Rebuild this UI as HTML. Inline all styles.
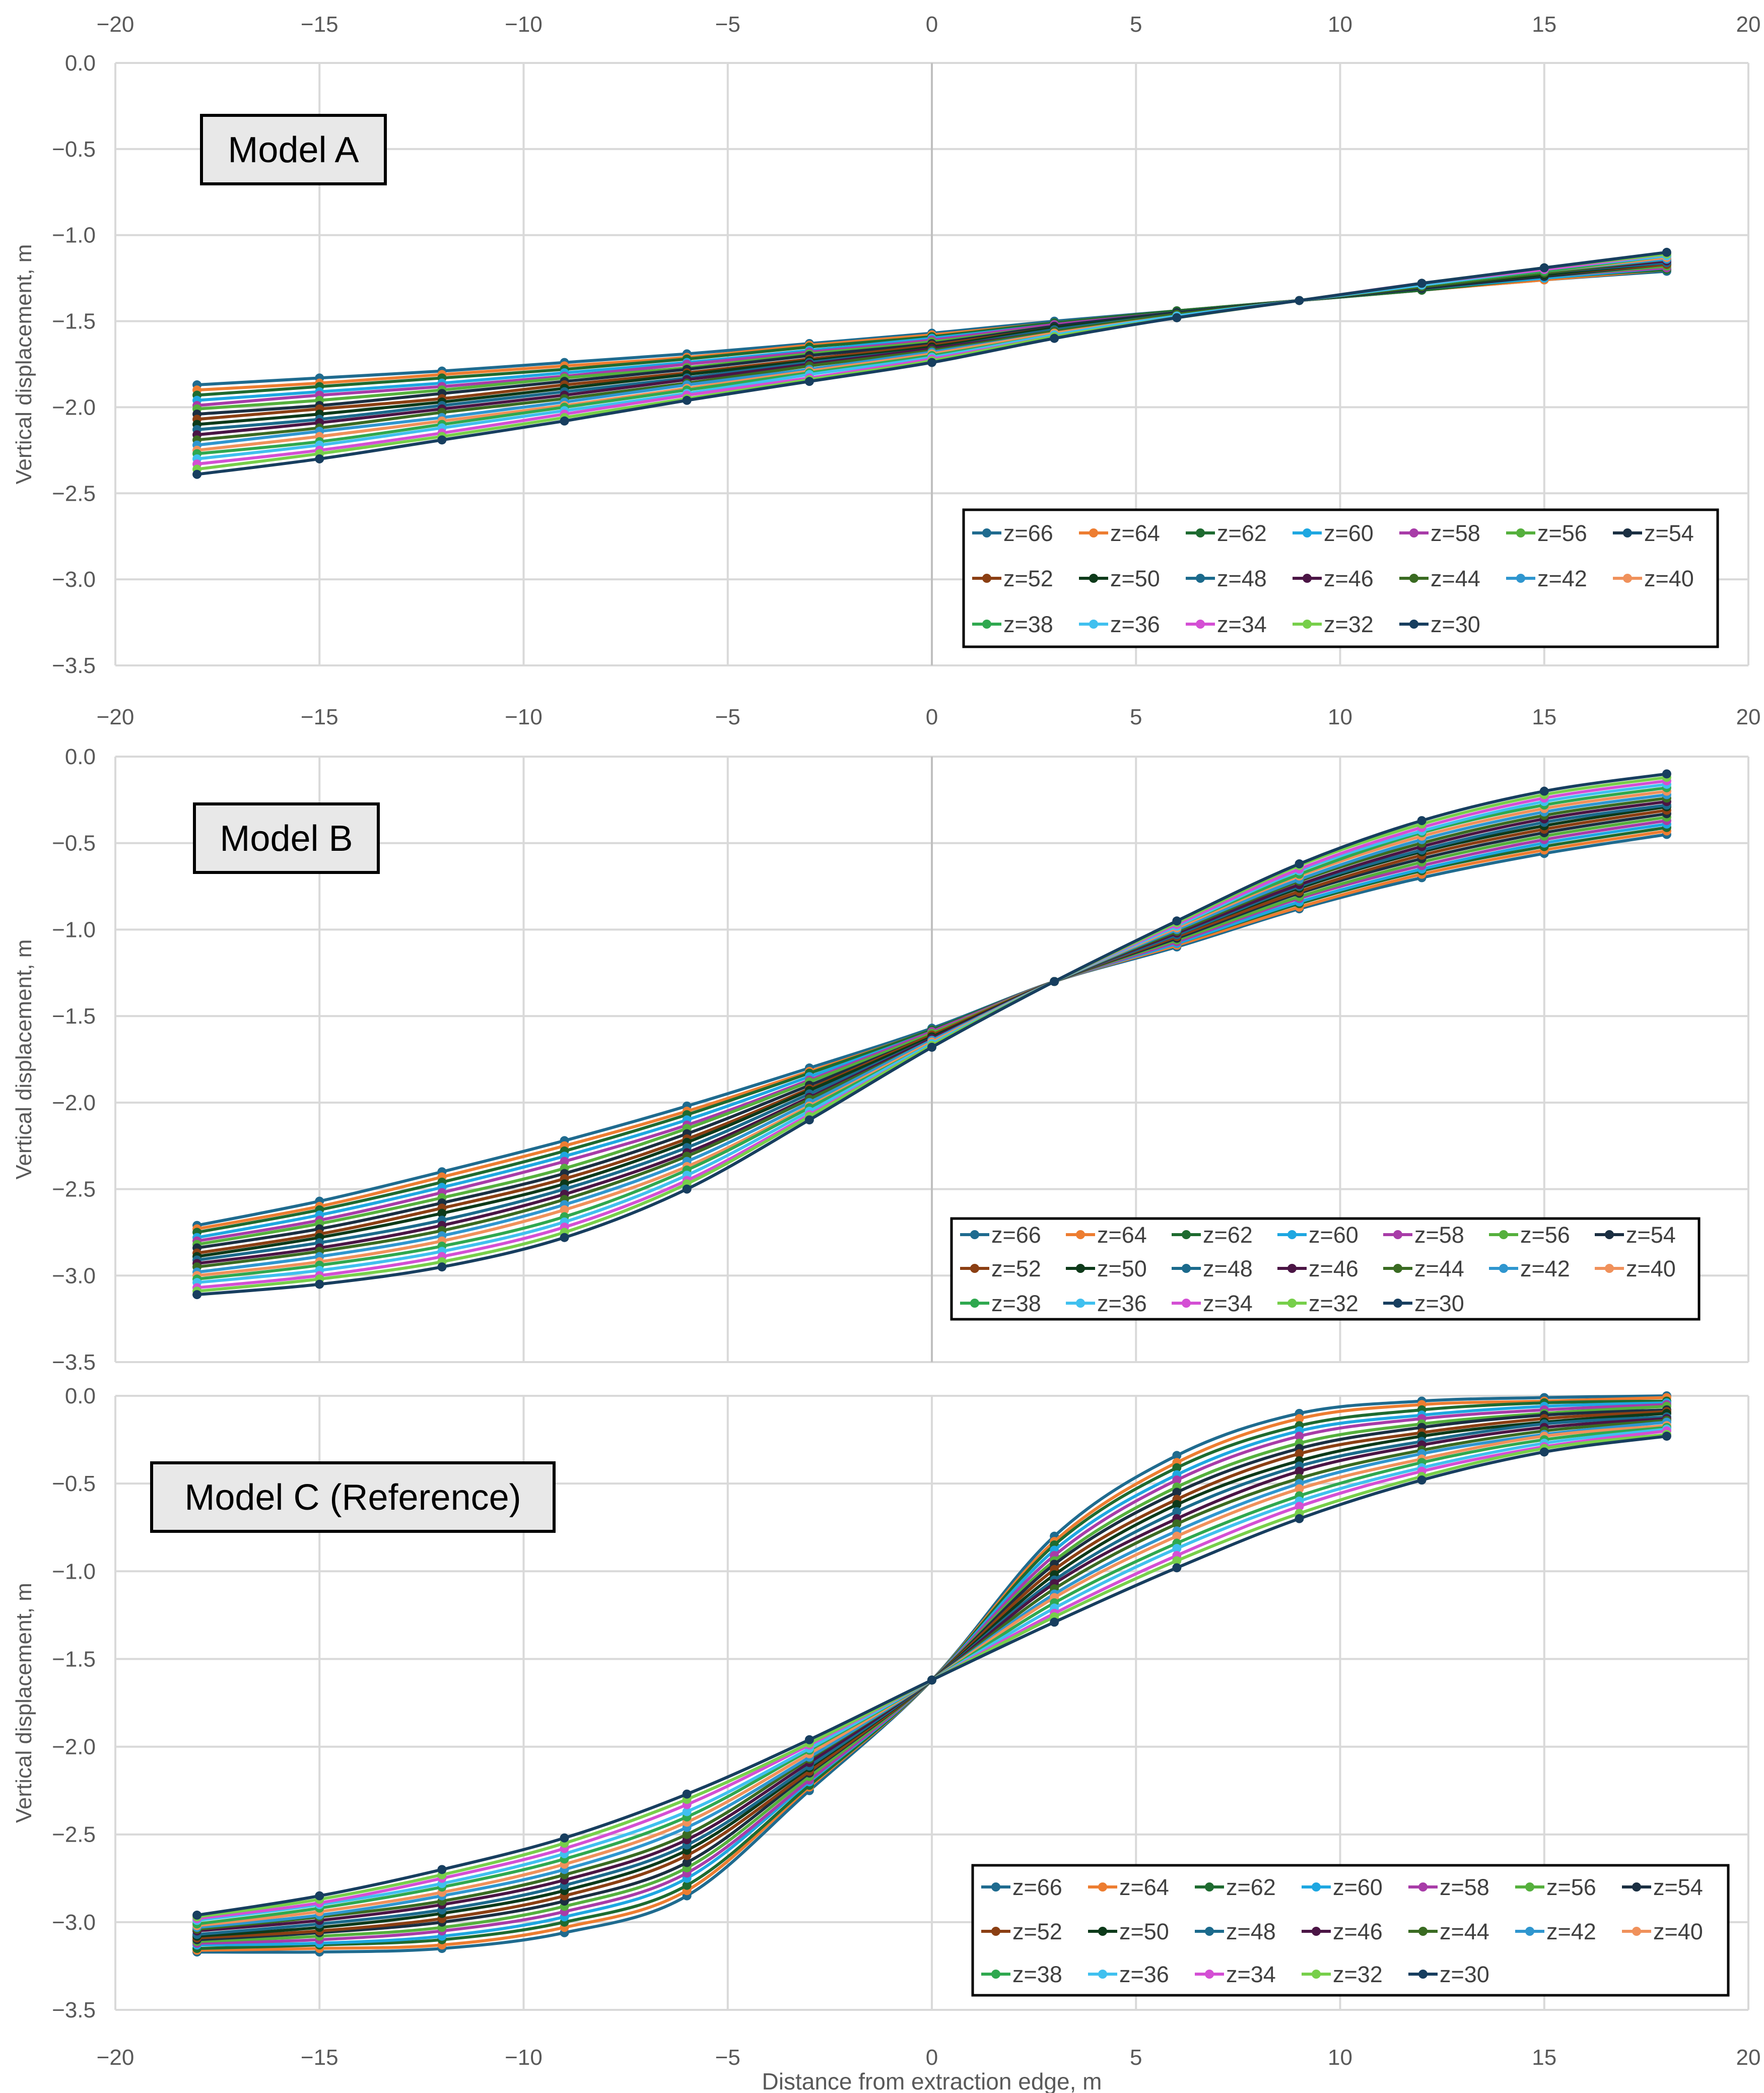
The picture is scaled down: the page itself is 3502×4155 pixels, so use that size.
<!DOCTYPE html>
<html><head><meta charset="utf-8"><style>
html,body{margin:0;padding:0;background:#fff;}
svg{display:block;font-family:"Liberation Sans",sans-serif;}
</style></head><body>
<svg id="chart" width="3502" height="4155" viewBox="0 0 3502 4155" xmlns="http://www.w3.org/2000/svg"></svg>
<script>
const xValues=[-18,-15,-12,-9,-6,-3,0,3,6,9,12,15,18];
const seriesNames=["z=66","z=64","z=62","z=60","z=58","z=56","z=54","z=52","z=50","z=48","z=46","z=44","z=42","z=40","z=38","z=36","z=34","z=32","z=30"];
const seriesColors=["#1f6b8f","#ed7d31","#1e6b30","#1ea7e1","#a83ca8","#55b03d","#1b2f42","#8b3f13","#0d3a1a","#1b6a8c","#4b1545","#3a6b22","#2f96cf","#f0915b","#2fa84f","#40c0ef","#d44fd4","#77cf4a","#173e5f"];
const xTicks=[-20,-15,-10,-5,0,5,10,15,20];
const yTicks=[0,-0.5,-1,-1.5,-2,-2.5,-3,-3.5];
const modelA=[
[-1.87,-1.83,-1.79,-1.74,-1.69,-1.63,-1.57,-1.50,-1.44,-1.38,-1.32,-1.26,-1.21],
[-1.90,-1.86,-1.81,-1.76,-1.71,-1.64,-1.58,-1.51,-1.44,-1.38,-1.32,-1.26,-1.20],
[-1.93,-1.88,-1.83,-1.78,-1.72,-1.65,-1.59,-1.51,-1.44,-1.38,-1.32,-1.25,-1.20],
[-1.96,-1.91,-1.86,-1.80,-1.74,-1.67,-1.60,-1.52,-1.45,-1.38,-1.31,-1.25,-1.19],
[-1.99,-1.93,-1.88,-1.82,-1.75,-1.68,-1.61,-1.52,-1.45,-1.38,-1.31,-1.24,-1.19],
[-2.01,-1.96,-1.90,-1.83,-1.77,-1.69,-1.62,-1.53,-1.45,-1.38,-1.31,-1.24,-1.18],
[-2.04,-1.99,-1.92,-1.85,-1.78,-1.70,-1.63,-1.53,-1.45,-1.38,-1.31,-1.24,-1.17],
[-2.07,-2.01,-1.95,-1.87,-1.80,-1.72,-1.64,-1.54,-1.46,-1.38,-1.30,-1.23,-1.17],
[-2.10,-2.04,-1.97,-1.89,-1.81,-1.73,-1.65,-1.54,-1.46,-1.38,-1.30,-1.23,-1.16],
[-2.13,-2.07,-1.99,-1.91,-1.83,-1.74,-1.66,-1.55,-1.46,-1.38,-1.30,-1.22,-1.16],
[-2.16,-2.09,-2.01,-1.93,-1.84,-1.75,-1.66,-1.56,-1.46,-1.38,-1.30,-1.22,-1.15],
[-2.19,-2.12,-2.03,-1.95,-1.86,-1.76,-1.67,-1.56,-1.46,-1.38,-1.30,-1.22,-1.14],
[-2.22,-2.14,-2.06,-1.97,-1.87,-1.78,-1.68,-1.57,-1.47,-1.38,-1.29,-1.21,-1.14],
[-2.25,-2.17,-2.08,-1.99,-1.89,-1.79,-1.69,-1.57,-1.47,-1.38,-1.29,-1.21,-1.13],
[-2.27,-2.20,-2.10,-2.00,-1.90,-1.80,-1.70,-1.58,-1.47,-1.38,-1.29,-1.21,-1.12],
[-2.30,-2.22,-2.12,-2.02,-1.92,-1.81,-1.71,-1.58,-1.47,-1.38,-1.29,-1.20,-1.12],
[-2.33,-2.25,-2.15,-2.04,-1.93,-1.83,-1.72,-1.59,-1.48,-1.38,-1.28,-1.20,-1.11],
[-2.36,-2.27,-2.17,-2.06,-1.95,-1.84,-1.73,-1.59,-1.48,-1.38,-1.28,-1.19,-1.11],
[-2.39,-2.30,-2.19,-2.08,-1.96,-1.85,-1.74,-1.60,-1.48,-1.38,-1.28,-1.19,-1.10]];
const modelB=[
[-2.71,-2.57,-2.40,-2.22,-2.02,-1.80,-1.57,-1.30,-1.10,-0.88,-0.70,-0.56,-0.45],
[-2.73,-2.60,-2.43,-2.25,-2.05,-1.82,-1.58,-1.30,-1.09,-0.87,-0.68,-0.54,-0.43],
[-2.75,-2.62,-2.46,-2.28,-2.07,-1.83,-1.58,-1.30,-1.08,-0.85,-0.66,-0.52,-0.41],
[-2.78,-2.65,-2.49,-2.31,-2.10,-1.85,-1.59,-1.30,-1.08,-0.84,-0.65,-0.50,-0.39],
[-2.80,-2.68,-2.52,-2.34,-2.13,-1.87,-1.59,-1.30,-1.07,-0.82,-0.63,-0.48,-0.37],
[-2.82,-2.70,-2.55,-2.38,-2.15,-1.88,-1.60,-1.30,-1.06,-0.81,-0.61,-0.46,-0.35],
[-2.84,-2.73,-2.58,-2.41,-2.18,-1.90,-1.61,-1.30,-1.05,-0.79,-0.59,-0.44,-0.33],
[-2.87,-2.76,-2.61,-2.44,-2.21,-1.92,-1.61,-1.30,-1.04,-0.78,-0.57,-0.42,-0.31],
[-2.89,-2.78,-2.64,-2.47,-2.23,-1.93,-1.62,-1.30,-1.03,-0.76,-0.55,-0.40,-0.29],
[-2.91,-2.81,-2.68,-2.50,-2.26,-1.95,-1.63,-1.30,-1.03,-0.75,-0.54,-0.38,-0.28],
[-2.93,-2.84,-2.71,-2.53,-2.29,-1.97,-1.63,-1.30,-1.02,-0.74,-0.52,-0.36,-0.26],
[-2.95,-2.86,-2.74,-2.56,-2.31,-1.98,-1.64,-1.30,-1.01,-0.72,-0.50,-0.34,-0.24],
[-2.98,-2.89,-2.77,-2.59,-2.34,-2.00,-1.64,-1.30,-1.00,-0.71,-0.48,-0.32,-0.22],
[-3.00,-2.92,-2.80,-2.62,-2.37,-2.02,-1.65,-1.30,-0.99,-0.69,-0.46,-0.30,-0.20],
[-3.02,-2.94,-2.83,-2.66,-2.39,-2.03,-1.66,-1.30,-0.98,-0.68,-0.44,-0.28,-0.18],
[-3.04,-2.97,-2.86,-2.69,-2.42,-2.05,-1.66,-1.30,-0.98,-0.66,-0.43,-0.26,-0.16],
[-3.07,-3.00,-2.89,-2.72,-2.45,-2.07,-1.67,-1.30,-0.97,-0.65,-0.41,-0.24,-0.14],
[-3.09,-3.02,-2.92,-2.75,-2.47,-2.08,-1.67,-1.30,-0.96,-0.63,-0.39,-0.22,-0.12],
[-3.11,-3.05,-2.95,-2.78,-2.50,-2.10,-1.68,-1.30,-0.95,-0.62,-0.37,-0.20,-0.10]];
const modelC=[
[-3.17,-3.17,-3.15,-3.06,-2.85,-2.25,-1.62,-0.80,-0.34,-0.10,-0.03,-0.01,0.00],
[-3.16,-3.15,-3.13,-3.03,-2.82,-2.23,-1.62,-0.83,-0.38,-0.13,-0.05,-0.03,-0.01],
[-3.15,-3.13,-3.10,-3.00,-2.79,-2.22,-1.62,-0.85,-0.41,-0.17,-0.08,-0.04,-0.03],
[-3.13,-3.12,-3.08,-2.97,-2.75,-2.20,-1.62,-0.88,-0.45,-0.20,-0.11,-0.06,-0.04],
[-3.12,-3.10,-3.05,-2.94,-2.72,-2.19,-1.62,-0.91,-0.48,-0.23,-0.13,-0.08,-0.05],
[-3.11,-3.08,-3.03,-2.91,-2.69,-2.17,-1.62,-0.94,-0.52,-0.27,-0.16,-0.10,-0.06],
[-3.10,-3.06,-3.00,-2.88,-2.66,-2.15,-1.62,-0.96,-0.55,-0.30,-0.18,-0.11,-0.08],
[-3.09,-3.05,-2.98,-2.85,-2.62,-2.14,-1.62,-0.99,-0.59,-0.33,-0.21,-0.13,-0.09],
[-3.08,-3.03,-2.95,-2.82,-2.59,-2.12,-1.62,-1.02,-0.62,-0.37,-0.23,-0.15,-0.10],
[-3.07,-3.01,-2.93,-2.79,-2.56,-2.11,-1.62,-1.05,-0.66,-0.40,-0.26,-0.16,-0.12],
[-3.05,-2.99,-2.90,-2.76,-2.53,-2.09,-1.62,-1.07,-0.70,-0.43,-0.28,-0.18,-0.13],
[-3.04,-2.97,-2.88,-2.73,-2.50,-2.07,-1.62,-1.10,-0.73,-0.47,-0.31,-0.20,-0.14],
[-3.03,-2.96,-2.85,-2.70,-2.46,-2.06,-1.62,-1.13,-0.77,-0.50,-0.33,-0.22,-0.15],
[-3.02,-2.94,-2.83,-2.67,-2.43,-2.04,-1.62,-1.15,-0.80,-0.53,-0.36,-0.23,-0.17],
[-3.01,-2.92,-2.80,-2.64,-2.40,-2.02,-1.62,-1.18,-0.84,-0.57,-0.38,-0.25,-0.18],
[-2.99,-2.90,-2.78,-2.61,-2.37,-2.01,-1.62,-1.21,-0.87,-0.60,-0.41,-0.27,-0.19],
[-2.98,-2.89,-2.75,-2.58,-2.33,-1.99,-1.62,-1.24,-0.91,-0.63,-0.43,-0.29,-0.20],
[-2.97,-2.87,-2.73,-2.55,-2.30,-1.98,-1.62,-1.26,-0.94,-0.67,-0.46,-0.30,-0.22],
[-2.96,-2.85,-2.70,-2.52,-2.27,-1.96,-1.62,-1.29,-0.98,-0.70,-0.48,-0.32,-0.23]];

const NS="http://www.w3.org/2000/svg";
const svg=document.getElementById('chart');
function mk(tag,attrs,parent){const e=document.createElementNS(NS,tag);for(const k in attrs)e.setAttribute(k,attrs[k]);(parent||svg).appendChild(e);return e;}
function fmtY(v){return (v<0?"\u2212":"")+Math.abs(v).toFixed(1);}

const X0=229,X1=3471;
const panels=[
 {key:'a',data:modelA,top:125,bot:1321,label:'Model A',lb:[400,229,365,136],leg:[1913,1012,1497,272],legRows:[1058,1148,1239],legX0:1930,legStep:212,topLabels:48,botLabels:1423},
 {key:'b',data:modelB,top:1502,bot:2704,label:'Model B',lb:[386,1596,365,136],leg:[1889,2419,1484,200],legRows:[2451,2518,2587],legX0:1906,legStep:210,topLabels:null,botLabels:null},
 {key:'c',data:modelC,top:2771,bot:3990,label:'Model C (Reference)',lb:[301,2904,799,136],leg:[1931,3703,1500,258],legRows:[3746,3834,3919],legX0:1948,legStep:212,topLabels:null,botLabels:4084}
];

panels.forEach(p=>{
  const g=mk('g',{});
  
  
  const xs=v=>X0+(v+20)/40*(X1-X0);
  const ys=v=>p.top+(-v)/3.5*(p.bot-p.top);
  yTicks.forEach(t=>{
    const l=mk('line',{x1:X0,x2:X1,y1:ys(t),y2:ys(t),stroke:'#d9d9d9','stroke-width':4},g);
    
    
    const tx=mk('text',{x:190,y:ys(t)+15,'text-anchor':'end','font-size':44,fill:'#595959'},g);
    tx.textContent=fmtY(t);
    
    
  });
  xTicks.forEach(t=>{
    const l=mk('line',{x1:xs(t),x2:xs(t),y1:p.top,y2:p.bot,stroke:t===0&&p.key!=='c'?'#bfbfbf':'#d9d9d9','stroke-width':4},g);
    
    
    [p.topLabels,p.botLabels].forEach(yy=>{
      if(yy===null)return;
      const tx=mk('text',{x:xs(t),y:yy+15,'text-anchor':'middle','font-size':44,fill:'#595959'},g);
      tx.textContent=(t<0?"\u2212":"")+Math.abs(t);
      
      
    });
  });
  const cy=(p.top+p.bot)/2;
  const yt=mk('text',{x:0,y:0,transform:`translate(62,${cy}) rotate(-90)`,'text-anchor':'middle','font-size':44,fill:'#595959'},g);
  yt.textContent='Vertical displacement, m';
  
  
  p.data.forEach((vals,si)=>{
    const pts=vals.map((v,i)=>[xs(xValues[i]),ys(v)]);
    let d='M'+pts[0][0]+','+pts[0][1];
    for(let i=0;i<pts.length-1;i++){
      const p0=pts[Math.max(0,i-1)],p1=pts[i],p2=pts[i+1],p3=pts[Math.min(pts.length-1,i+2)];
      const c1=[p1[0]+(p2[0]-p0[0])/6,p1[1]+(p2[1]-p0[1])/6];
      const c2=[p2[0]-(p3[0]-p1[0])/6,p2[1]-(p3[1]-p1[1])/6];
      d+=`C${c1[0]},${c1[1]} ${c2[0]},${c2[1]} ${p2[0]},${p2[1]}`;
    }
    const sg=mk('g',{},g);
    
    
    mk('path',{d:d,fill:'none',stroke:seriesColors[si],'stroke-width':6},sg);
    pts.forEach(pt=>{
      const c=mk('circle',{cx:pt[0],cy:pt[1],r:9,fill:seriesColors[si]},sg);
      
      
    });
  });
  const lr=mk('rect',{x:p.lb[0],y:p.lb[1],width:p.lb[2],height:p.lb[3],fill:'#e8e8e8',stroke:'#000','stroke-width':6},g);
  
  
  const lt=mk('text',{x:p.lb[0]+p.lb[2]/2,y:p.lb[1]+p.lb[3]/2+25,'text-anchor':'middle','font-size':72,fill:'#000'},g);
  lt.textContent=p.label;
  
  
  const lg=mk('g',{},g);
  
  
  mk('rect',{x:p.leg[0],y:p.leg[1],width:p.leg[2],height:p.leg[3],fill:'#fff',stroke:'#000','stroke-width':5},lg);
  seriesNames.forEach((n,si)=>{
    const row=Math.floor(si/7),col=si%7;
    const x=p.legX0+col*p.legStep,y=p.legRows[row];
    const e=mk('g',{},lg);
    
    
    mk('line',{x1:x,x2:x+58,y1:y,y2:y,stroke:seriesColors[si],'stroke-width':6},e);
    mk('circle',{cx:x+29,cy:y,r:9,fill:seriesColors[si]},e);
    const t=mk('text',{x:x+62,y:y+16,'font-size':45,fill:'#404040'},e);
    t.textContent=n;
  });
});
const xt=mk('text',{x:1850,y:4148,'text-anchor':'middle','font-size':46,fill:'#595959'});
xt.textContent='Distance from extraction edge, m';


</script>
</body></html>
